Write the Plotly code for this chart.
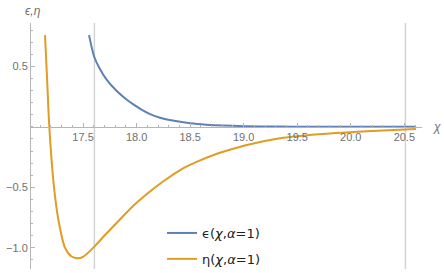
import plotly.graph_objects as go

# Data
chi_eps = [17.556, 17.58, 17.606, 17.65, 17.72, 17.81, 17.90, 17.97, 18.05, 18.126, 18.22, 18.35, 18.5, 18.65, 18.81, 19.0, 19.3, 19.6, 20.0, 20.3, 20.61]
eps = [0.758, 0.66, 0.575, 0.49, 0.39, 0.30, 0.23, 0.185, 0.14, 0.105, 0.075, 0.05, 0.03, 0.018, 0.01, 0.005, 0.002, 0.001, 0.0, 0.0, 0.0]

chi_eta = [17.145, 17.165, 17.185, 17.229, 17.27, 17.332, 17.39, 17.444, 17.50, 17.606, 17.72, 17.84, 17.96, 18.096, 18.25, 18.407, 18.56, 18.72, 18.87, 19.03, 19.34, 19.7, 20.06, 20.35, 20.61]
eta = [0.758, 0.38, 0.0, -0.5, -0.77, -1.0, -1.07, -1.087, -1.075, -0.99, -0.88, -0.77, -0.66, -0.555, -0.45, -0.357, -0.29, -0.233, -0.19, -0.150, -0.095, -0.062, -0.040, -0.028, -0.018]

x_ticks = [17.5, 18.0, 18.5, 19.0, 19.5, 20.0, 20.5]
y_ticks = [-1.0, -0.5, 0.5]
y_tick_text = ["\u22121.0", "\u22120.5", "0.5"]
grid_x = [17.606, 20.51]

x_range = [17.014, 20.665]
y_range = [-1.175, 0.858]

blue = "#5E81B5"
orange = "#E19C24"
axis_gray = "#b5b5b5"
FONT = "Liberation Sans, Arial, sans-serif"
tick_font = dict(family=FONT, size=11, color="#707070")

ML, MR, MT, MB = 31, 22, 23, 4
W, H = 444, 273
plot_w = W - ML - MR
plot_h = H - MT - MB

fig = go.Figure()
fig.add_trace(go.Scatter(x=chi_eps, y=eps, mode="lines", line=dict(color=blue, width=2, shape="spline", smoothing=0.8),
                         name="\u03f5(<i>\u03c7</i>,<i>\u03b1</i>=1)", legendgroup="a"))
fig.add_trace(go.Scatter(x=chi_eta, y=eta, mode="lines", line=dict(color=orange, width=2, shape="spline", smoothing=0.8),
                         name="\u03b7(<i>\u03c7</i>,<i>\u03b1</i>=1)", legendgroup="b"))

for gx in grid_x:
    fig.add_shape(type="line", x0=gx, x1=gx, y0=0, y1=1, xref="x", yref="paper",
                  line=dict(color="#d3d3d3", width=1.5), layer="below")

xpos = (0 - y_range[0]) / (y_range[1] - y_range[0])

fig.update_layout(
    width=W, height=H,
    margin=dict(l=ML, r=MR, t=MT, b=MB, autoexpand=False),
    paper_bgcolor="white", plot_bgcolor="white",
    showlegend=True,
    legend=dict(x=(162 - ML) / plot_w, y=(H - MB - 246) / plot_h, xanchor="left", yanchor="middle",
                bgcolor="rgba(0,0,0,0)",
                font=dict(family="DejaVu Sans, sans-serif", size=13, color="#222222"),
                tracegroupgap=6, itemwidth=30),
    xaxis=dict(range=x_range, anchor="free", position=xpos, showline=True, linecolor=axis_gray, linewidth=1,
               automargin=False,
               showgrid=False, zeroline=False, tickvals=x_ticks, ticktext=[f"{v:.1f}" for v in x_ticks],
               ticks="inside", ticklen=4, tickcolor=axis_gray, tickfont=tick_font,
               minor=dict(ticks="inside", ticklen=2, dtick=0.1, tick0=17.0, tickcolor=axis_gray, showgrid=False)),
    yaxis=dict(range=y_range, showline=True, linecolor=axis_gray, linewidth=1, showgrid=False, zeroline=False,
               automargin=False,
               tickvals=y_ticks, ticktext=y_tick_text, ticks="inside", ticklen=4, tickcolor=axis_gray,
               tickfont=tick_font,
               minor=dict(ticks="inside", ticklen=2, dtick=0.1, tick0=0, tickcolor=axis_gray, showgrid=False)),
    annotations=[
        dict(text="<i>\u03f5,\u03b7</i>", xref="paper", yref="paper",
             x=(23 - ML) / plot_w, y=(H - MB - 11) / plot_h, xanchor="left", yanchor="middle",
             showarrow=False, font=dict(family=FONT, size=12, color="#707070")),
        dict(text="<i>\u03c7</i>", xref="paper", yref="paper",
             x=(437 - ML) / plot_w, y=(H - MB - 127) / plot_h, xanchor="center", yanchor="middle",
             showarrow=False, font=dict(family=FONT, size=12, color="#707070")),
    ],
)

fig.write_html("out.html", config={"displayModeBar": False},
               post_script="document.body.style.margin='0';document.body.style.overflow='hidden';")
